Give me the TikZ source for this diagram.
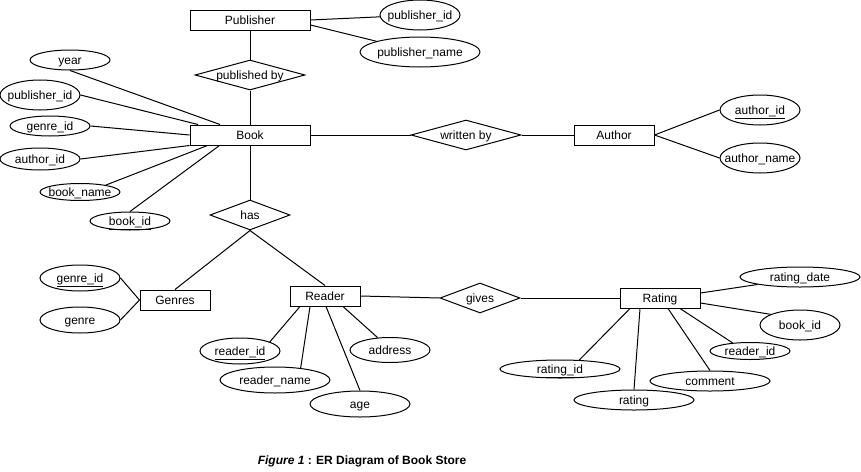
\documentclass[tikz,border=0pt]{standalone}
\usepackage{fontspec}
\setmainfont{Liberation Sans}
\usetikzlibrary{shapes,shapes.geometric}
\newcommand{\nobox}[1]{\makebox[0pt]{#1}}

\begin{document}
\begin{tikzpicture}[x=1pt, y=-1pt, line width=1pt,
      every node/.append style={font=\fontsize{12}{14}\selectfont, inner sep=0pt, text height=10pt, text depth=1.4pt},
      entity/.style 2 args={draw, rectangle, minimum width=#1pt, minimum height=#2pt},
      attr/.style 2 args={draw, ellipse, minimum width=#1pt, minimum height=#2pt},
      rel/.style 2 args={draw, diamond, minimum width=#1pt, minimum height=#2pt}]
    \tikzstyle{caption} = [font=\fontsize{12}{14}\selectfont\bfseries]
    \useasboundingbox (0,0) rectangle (861,471);

    \node (Publisher) [entity={120}{20}] at (250,20) {Publisher};
    \node (pub_id) [attr={80}{30}] at (420,15) {\nobox{publisher\_id}};
    \node (pub_name) [attr={120}{30}] at (420,52) {\nobox{publisher\_name}};
    \node (published_by) [rel={110}{30}] at (250,75) {\nobox{published by}};

    \node (Book) [entity={120}{20}] at (250,135) {Book};
    \node (year) [attr={80}{20}] at (70,60) {\nobox{year}};
    \node (book_pub_id) [attr={80}{30}] at (40,95) {\nobox{publisher\_id}};
    \node (book_genre_id) [attr={80}{20}] at (50,126) {\nobox{genre\_id}};
    \node (book_author_id) [attr={80}{22}] at (40,159) {\nobox{author\_id}};
    \node (book_name) [attr={80}{17}] at (80,192) {\nobox{book\_name}};
    \node (book_id) [attr={80}{18}] at (130,221) {\nobox{\underline{book\_id}}};

    \node (written_by) [rel={110}{30}] at (466,135) {\nobox{written by}};
    \node (Author) [entity={80}{20}] at (614,135) {Author};
    \node (author_id) [attr={80}{30}] at (760,110) {\nobox{\underline{author\_id}}};
    \node (author_name) [attr={80}{30}] at (760,158) {\nobox{author\_name}};

    \node (has) [rel={80}{30}] at (250,215) {\nobox{has}};
    \node (Genres) [entity={70}{20}] at (175,300) {Genres};
    \node (genre_id) [attr={80}{26}] at (80,278) {\nobox{\underline{genre\_id}}};
    \node (genre) [attr={80}{26}] at (80,320) {\nobox{genre}};

    \node (Reader) [entity={70}{20}] at (325,296) {Reader};
    \node (reader_id) [attr={80}{26}] at (240,351) {\nobox{\underline{reader\_id}}};
    \node (reader_name) [attr={110}{26}] at (275,380) {\nobox{reader\_name}};
    \node (age) [attr={100}{26}] at (360,404) {\nobox{age}};
    \node (address) [attr={80}{25}] at (390,350) {\nobox{address}};

    \node (gives) [rel={80}{30}] at (480,298) {\nobox{gives}};
    \node (Rating) [entity={80}{20}] at (660,298) {Rating};
    \node (rating_date) [attr={120}{20}] at (800,277) {\nobox{rating\_date}};
    \node (rating_book_id) [attr={80}{30}] at (800,325) {\nobox{book\_id}};
    \node (rating_reader_id) [attr={80}{17}] at (750,351) {\nobox{reader\_id}};
    \node (comment) [attr={120}{20}] at (710,381) {\nobox{comment}};
    \node (rating) [attr={120}{20}] at (634,400) {\nobox{rating}};
    \node (rating_id) [attr={120}{18}] at (560,369) {\nobox{\underline{rating\_id}}};

    \node (fig) [caption] at (362,460) {\textit{Figure 1} : ER Diagram of Book Store};

    \draw (Publisher.east) -- (pub_id);
    \draw ([yshift=-5pt]Publisher.east) -- (pub_name);
    \draw (Publisher.south) -- (published_by.north);
    \draw (published_by.south) -- (Book.north);

    \draw (year.south) -- ([xshift=-30pt]Book.north);
    \draw (book_pub_id.east) -- ([xshift=-52pt]Book.north);
    \draw (book_genre_id.east) -- (Book.west);
    \draw (book_author_id.east) -- (Book.south west);
    \draw (book_name.15) -- ([xshift=18pt]Book.south west);
    \draw (book_id.north) -- ([xshift=30pt]Book.south west);

    \draw (Book.east) -- (written_by.west);
    \draw (written_by.east) -- (Author.west);
    \draw (Author.east) -- (author_id.west);
    \draw (Author.east) -- (author_name.west);

    \draw (Book.south) -- (has.north);
    \draw (has.south) -- (Genres.north);
    \draw (has.south) -- (Reader.north);
    \draw (genre_id.east) -- (Genres.west);
    \draw (genre.east) -- (Genres.west);

    \draw ([xshift=-25pt]Reader.south) -- (reader_id.17);
    \draw ([xshift=-15pt]Reader.south) -- (reader_name.25);
    \draw ([xshift=1pt]Reader.south) -- (age.north);
    \draw ([xshift=18pt]Reader.south) -- (address.135);
    \draw (Reader.east) -- (gives.west);
    \draw (gives.east) -- (Rating.west);

    \draw ([yshift=5pt]Rating.east) -- (rating_date.190);
    \draw ([yshift=-5pt]Rating.east) -- (rating_book_id.160);
    \draw ([xshift=20pt]Rating.south) -- (rating_reader_id.155);
    \draw ([xshift=8pt]Rating.south) -- (comment.north);
    \draw ([xshift=-20pt]Rating.south) -- (rating.north);
    \draw ([xshift=-30pt]Rating.south) -- (rating_id.25);
\end{tikzpicture}
\end{document}
